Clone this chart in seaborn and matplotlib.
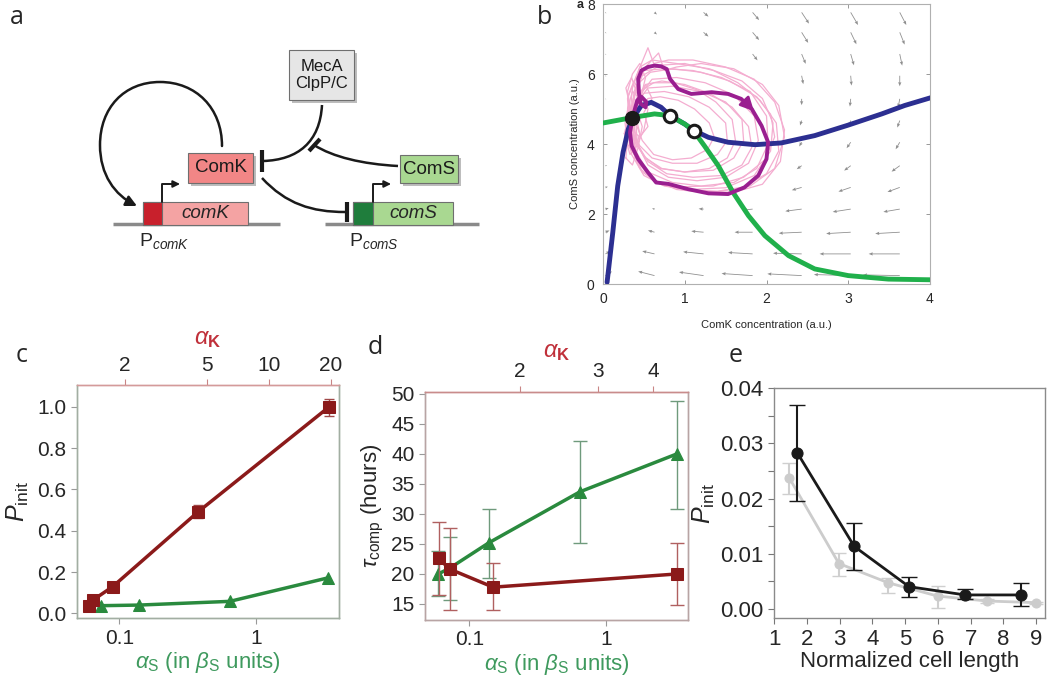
import numpy as np
import pandas as pd
import seaborn as sns
import matplotlib.pyplot as plt
import matplotlib.patches as mpatches
from matplotlib.path import Path
from matplotlib.ticker import NullLocator

# ---------------- data ----------------
# panel b: phase plane
comk_null_x = [0.05, 0.12, 0.18, 0.245, 0.31, 0.37, 0.47, 0.59, 0.71, 0.82, 1.0, 1.1, 1.29,
               1.53, 1.86, 2.18, 2.59, 3.0, 3.41, 3.69, 4.02]
comk_null_y = [0.05, 1.48, 2.8, 3.76, 4.43, 4.76, 5.1, 5.19, 5.05, 4.81, 4.57, 4.4, 4.19,
               4.05, 3.98, 4.03, 4.24, 4.54, 4.86, 5.1, 5.33]
coms_null_x = [0.0, 0.37, 0.63, 0.82, 1.0, 1.1, 1.24, 1.41, 1.59, 1.78, 1.98, 2.27, 2.59,
               3.0, 3.49, 4.02]
coms_null_y = [4.6, 4.76, 4.86, 4.81, 4.57, 4.4, 3.95, 3.38, 2.62, 1.95, 1.38, 0.81, 0.43,
               0.24, 0.14, 0.12]
stable_pt = (0.36, 4.74)
unstable_x = [0.82, 1.11]
unstable_y = [4.81, 4.38]

traj_x = [0.36, 0.39, 0.42, 0.47, 0.53, 0.52, 0.46, 0.44, 0.43, 0.47, 0.55, 0.63, 0.71, 0.78,
          0.82, 0.92, 1.08, 1.33, 1.53, 1.69, 1.82, 1.94, 2.02, 2.0, 1.9, 1.73, 1.53, 1.29,
          1.04, 0.8, 0.65, 0.55, 0.43, 0.35, 0.33, 0.36]
traj_y = [4.74, 5.0, 5.25, 5.35, 5.2, 5.05, 5.15, 5.45, 5.86, 6.1, 6.2, 6.24, 6.22, 6.14,
          5.86, 5.57, 5.43, 5.48, 5.43, 5.29, 5.0, 4.52, 4.05, 3.57, 3.1, 2.76, 2.57, 2.59,
          2.71, 2.86, 2.9, 3.19, 3.57, 3.95, 4.33, 4.71]

loop1_x = [0.32, 0.30, 0.40, 0.55, 0.62, 0.80, 1.10, 1.50, 1.85, 2.10, 2.22, 2.17, 1.95, 1.60, 1.15, 0.75, 0.50, 0.35, 0.30, 0.33]
loop1_y = [4.6, 5.3, 5.9, 6.75, 6.3, 6.4, 6.4, 6.2, 5.85, 5.2, 4.4, 3.5, 2.85, 2.62, 2.65, 2.8, 3.1, 3.7, 4.3, 4.7]
loop2_x = [0.35, 0.38, 0.50, 0.75, 1.10, 1.45, 1.80, 2.00, 2.02, 1.88, 1.60, 1.20, 0.85, 0.55, 0.40, 0.35]
loop2_y = [4.7, 5.5, 6.1, 6.15, 6.1, 5.9, 5.5, 4.8, 4.0, 3.3, 2.9, 2.8, 2.9, 3.2, 3.8, 4.7]
loop3_x = [0.40, 0.45, 0.60, 0.90, 1.25, 1.60, 1.85, 1.90, 1.78, 1.50, 1.15, 0.80, 0.55, 0.42, 0.40]
loop3_y = [4.7, 5.4, 5.85, 5.9, 5.75, 5.4, 4.8, 4.1, 3.45, 3.05, 2.95, 3.05, 3.4, 4.0, 4.7]
loop4_x = [0.38, 0.42, 0.55, 0.85, 1.20, 1.50, 1.70, 1.72, 1.60, 1.35, 1.00, 0.70, 0.50, 0.40, 0.38]
loop4_y = [4.6, 5.2, 5.6, 5.65, 5.5, 5.2, 4.7, 4.1, 3.6, 3.25, 3.2, 3.3, 3.65, 4.1, 4.6]
loop5_x = [0.36, 0.40, 0.50, 0.75, 1.05, 1.30, 1.50, 1.52, 1.40, 1.15, 0.85, 0.60, 0.45, 0.37, 0.36]
loop5_y = [4.7, 5.1, 5.45, 5.5, 5.35, 5.05, 4.6, 4.1, 3.7, 3.45, 3.45, 3.6, 3.95, 4.3, 4.7]
loop6_x = [0.33, 0.36, 0.45, 0.60, 0.90, 1.30, 1.70, 1.95, 2.08, 2.05, 1.85, 1.50, 1.05, 0.70, 0.45, 0.33, 0.33]
loop6_y = [4.8, 5.6, 6.2, 6.4, 6.3, 6.15, 5.8, 5.3, 4.6, 3.8, 3.1, 2.75, 2.7, 2.85, 3.3, 4.0, 4.8]
loop7_x = [0.30, 0.27, 0.32, 0.28, 0.35, 0.42, 0.40, 0.45, 0.38, 0.30]
loop7_y = [4.0, 4.6, 5.2, 5.6, 5.9, 5.4, 4.8, 4.3, 3.7, 4.0]
loop8_x = [0.30, 0.36, 0.45, 0.52, 0.60, 0.50, 0.55, 0.45, 0.35, 0.30]
loop8_y = [5.0, 5.5, 5.3, 5.7, 5.3, 4.9, 4.5, 4.2, 4.4, 5.0]
loop9_x = [0.34, 0.37, 0.48, 0.70, 1.00, 1.35, 1.65, 1.92, 2.12, 2.15, 2.00, 1.70, 1.30, 0.90, 0.60, 0.42, 0.34]
loop9_y = [4.5, 5.3, 5.95, 6.25, 6.3, 6.1, 5.75, 5.25, 4.6, 3.8, 3.15, 2.75, 2.6, 2.7, 3.0, 3.6, 4.5]
loop10_x = [0.37, 0.40, 0.52, 0.72, 1.00, 1.30, 1.58, 1.78, 1.82, 1.70, 1.45, 1.10, 0.78, 0.55, 0.42, 0.37]
loop10_y = [4.6, 5.25, 5.7, 5.8, 5.7, 5.45, 5.05, 4.5, 3.9, 3.4, 3.1, 3.05, 3.15, 3.5, 4.0, 4.6]
loop11_x = [0.36, 0.38, 0.45, 0.62, 0.88, 1.15, 1.38, 1.58, 1.62, 1.52, 1.30, 1.00, 0.72, 0.52, 0.40, 0.36]
loop11_y = [4.5, 5.0, 5.5, 5.75, 5.75, 5.55, 5.2, 4.7, 4.1, 3.6, 3.3, 3.2, 3.3, 3.6, 4.0, 4.5]
loop12_x = [0.33, 0.35, 0.42, 0.58, 0.85, 1.20, 1.55, 1.88, 2.05, 2.10, 1.98, 1.72, 1.35, 0.95, 0.62, 0.42, 0.33]
loop12_y = [4.4, 5.1, 5.7, 6.05, 6.15, 6.05, 5.8, 5.35, 4.85, 4.2, 3.55, 3.05, 2.8, 2.78, 2.95, 3.5, 4.4]
loop13_x = [0.28, 0.30, 0.34, 0.31, 0.38, 0.44, 0.41, 0.48, 0.43, 0.36, 0.28]
loop13_y = [3.6, 4.2, 4.8, 5.4, 5.8, 5.5, 5.0, 4.5, 3.9, 3.4, 3.6]
loop14_x = [0.26, 0.33, 0.30, 0.36, 0.45, 0.52, 0.47, 0.55, 0.50, 0.40, 0.33, 0.26]
loop14_y = [4.3, 4.9, 5.5, 6.0, 6.3, 5.9, 5.4, 5.0, 4.4, 3.9, 3.7, 4.3]
loop15_x = [0.40, 0.46, 0.55, 0.70, 0.92, 1.12, 1.30, 1.36, 1.28, 1.08, 0.85, 0.62, 0.48, 0.40]
loop15_y = [4.6, 5.05, 5.3, 5.35, 5.25, 5.0, 4.6, 4.2, 3.85, 3.6, 3.55, 3.7, 4.1, 4.6]
loop16_x = [0.35, 0.40, 0.52, 0.68, 0.75, 0.90, 1.20, 1.60, 1.95, 2.15, 2.22, 2.10, 1.80, 1.40, 1.00, 0.70, 0.48, 0.36, 0.35]
loop16_y = [4.6, 5.6, 6.2, 6.6, 6.1, 6.2, 6.3, 6.15, 5.7, 5.1, 4.2, 3.3, 2.8, 2.65, 2.7, 2.85, 3.2, 3.9, 4.6]

# vector field on a coarse grid
field_x = [0.03, 0.63, 1.23, 1.83, 2.43, 3.03, 3.63]
field_y = [7.76, 7.19, 6.57, 5.95, 5.29, 4.67, 4.05, 3.38, 2.76, 2.14, 1.48, 0.86, 0.24]
field_u = [[0.01, 0.03, 0.06, 0.08, 0.09, 0.09, 0.08],
           [0.01, 0.03, 0.06, 0.08, 0.08, 0.07, 0.06],
           [0.01, 0.0, 0.0, 0.06, 0.05, 0.04, 0.03],
           [0.01, 0.0, 0.0, 0.0, 0.02, 0.01, 0.0],
           [0.01, 0.0, 0.0, 0.0, 0.0, -0.01, -0.02],
           [0.0, 0.0, 0.0, 0.0, -0.02, -0.03, -0.03],
           [0.0, 0.0, 0.0, 0.0, -0.03, -0.05, -0.05],
           [0.02, 0.0, 0.0, 0.0, -0.06, -0.08, -0.10],
           [0.03, 0.0, 0.0, 0.0, -0.12, -0.15, -0.15],
           [0.04, -0.03, -0.06, -0.12, -0.20, -0.22, -0.20],
           [0.05, -0.08, -0.15, -0.22, -0.28, -0.30, -0.30],
           [0.06, -0.15, -0.25, -0.30, -0.35, -0.38, -0.38],
           [0.08, -0.20, -0.30, -0.38, -0.42, -0.45, -0.45]]
field_v = [[-0.03, -0.06, -0.12, -0.22, -0.32, -0.36, -0.36],
           [-0.03, -0.06, -0.12, -0.22, -0.30, -0.34, -0.35],
           [-0.02, 0.0, 0.0, -0.18, -0.28, -0.32, -0.33],
           [-0.02, 0.0, 0.0, 0.0, -0.24, -0.28, -0.30],
           [-0.01, 0.0, 0.0, 0.0, -0.18, -0.22, -0.25],
           [0.0, 0.0, 0.0, 0.0, -0.14, -0.18, -0.20],
           [0.0, 0.0, 0.0, 0.0, -0.12, -0.17, -0.20],
           [0.01, 0.0, 0.0, 0.0, -0.10, -0.14, -0.17],
           [0.02, 0.0, 0.0, 0.0, -0.08, -0.12, -0.13],
           [0.03, 0.02, 0.01, -0.03, -0.06, -0.08, -0.08],
           [0.05, 0.05, 0.03, 0.0, -0.03, -0.04, -0.04],
           [0.08, 0.08, 0.06, 0.04, 0.02, 0.0, 0.0],
           [0.12, 0.12, 0.10, 0.06, 0.05, 0.03, 0.02]]

# panel c
alpha_k_c = [1.33, 1.40, 1.74, 4.54, 19.5]
pinit_k_c = [0.035, 0.065, 0.129, 0.492, 0.997]
pinit_k_c_err = [0.005, 0.005, 0.008, 0.033, 0.042]
alpha_s_c = [0.073, 0.139, 0.644, 3.38]
pinit_s_c = [0.037, 0.040, 0.058, 0.172]

# panel d
alpha_k_d = [1.31, 1.39, 1.74, 4.52]
tau_k = [22.6, 20.8, 17.8, 20.0]
tau_k_lo = [16.5, 14.0, 14.0, 14.8]
tau_k_hi = [28.7, 27.6, 21.8, 25.1]
alpha_s_d = [0.0593, 0.0722, 0.139, 0.645, 3.29]
tau_s = [20.0, 21.0, 25.2, 33.7, 40.0]
tau_s_lo = [16.3, 15.7, 19.3, 25.1, 30.9]
tau_s_hi = [23.9, 26.2, 30.9, 42.2, 48.9]

# panel e
length_b = [1.71, 3.45, 5.12, 6.83, 8.53]
pinit_b = [0.0283, 0.0113, 0.0040, 0.0025, 0.0025]
pinit_b_lo = [0.0196, 0.0070, 0.0021, 0.0017, 0.0005]
pinit_b_hi = [0.0370, 0.0155, 0.0058, 0.0035, 0.0047]
length_g = [1.47, 2.98, 4.49, 5.99, 7.49, 9.0]
pinit_g = [0.0237, 0.0082, 0.0047, 0.0023, 0.0014, 0.0011]
pinit_g_lo = [0.0208, 0.0060, 0.0029, 0.0002, 0.0011, 0.0009]
pinit_g_hi = [0.0265, 0.0102, 0.0055, 0.0042, 0.0017, 0.0013]

# ---------------- style ----------------
sns.set_theme(style='ticks')
plt.rcParams['font.family'] = ['Liberation Sans', 'DejaVu Sans']
plt.rcParams['mathtext.fontset'] = 'custom'
plt.rcParams['mathtext.rm'] = 'Liberation Sans'
plt.rcParams['mathtext.it'] = 'Liberation Sans:italic'
plt.rcParams['mathtext.bf'] = 'Liberation Sans:bold'

RED = '#8b1a1a'
GREEN = '#2a8a3e'
LABEL_GREEN = '#3f9a5e'
LABEL_RED = '#c0303a'
W, H = 1050, 679

fig = plt.figure(figsize=(10.5, 6.79), dpi=100)


def px(l, t, r, b):
    return [l / W, 1 - b / H, (r - l) / W, (b - t) / H]


for lab, (x, y) in zip('abcde', [(10, 17), (537, 17), (16, 356), (368, 348), (729, 356)]):
    fig.text(x / W, 1 - y / H, lab, fontsize=18, family='Open Sans', ha='left', va='center')

# ---------------- panel a: diagram (pixel coordinates) ----------------
ax_a = fig.add_axes(px(0, 0, 525, 330))
ax_a.set_xlim(0, 525)
ax_a.set_ylim(330, 0)
ax_a.axis('off')


def box(ax, x0, y0, x1, y1, fc, text, size=13.5, italic=False, shadow=True):
    if shadow:
        ax.add_patch(mpatches.Rectangle((x0 + 3, y0 + 3), x1 - x0, y1 - y0, fc='#bdbdbd', ec='none', zorder=1))
    ax.add_patch(mpatches.Rectangle((x0, y0), x1 - x0, y1 - y0, fc=fc, ec='#6f6f6f', lw=0.8, zorder=2))
    if text:
        ax.text((x0 + x1) / 2, (y0 + y1) / 2, text, ha='center', va='center', fontsize=size,
                style='italic' if italic else 'normal', color='#1a1a1a', zorder=3, linespacing=1.1)


# DNA baselines
ax_a.plot([113, 280], [224, 224], color='#8a8a8a', lw=2.5, zorder=1, solid_capstyle='butt')
ax_a.plot([325, 479], [224, 224], color='#8a8a8a', lw=2.5, zorder=1, solid_capstyle='butt')
# genes
box(ax_a, 143, 202, 248, 225, '#f4a3a3', None, shadow=False)
ax_a.add_patch(mpatches.Rectangle((143, 202), 19, 23, fc='#c8202c', ec='#6f6f6f', lw=0.8, zorder=3))
ax_a.text(205, 213, 'comK', ha='center', va='center', fontsize=13.5, style='italic', zorder=4)
box(ax_a, 353, 202, 453, 225, '#a9d891', None, shadow=False)
ax_a.add_patch(mpatches.Rectangle((353, 202), 20, 23, fc='#1f7d3c', ec='#6f6f6f', lw=0.8, zorder=3))
ax_a.text(413, 213, 'comS', ha='center', va='center', fontsize=13.5, style='italic', zorder=4)
# proteins
box(ax_a, 188, 153, 253, 183, '#f28686', 'ComK')
box(ax_a, 400, 155, 458, 183, '#a9d891', 'ComS')
box(ax_a, 289, 50, 354, 100, '#e6e6e6', 'MecA\nClpP/C', size=12)
# promoter labels
ax_a.text(139, 241, r'P$_{\it{comK}}$', fontsize=14, ha='left', va='center')
ax_a.text(349, 241, r'P$_{\it{comS}}$', fontsize=14, ha='left', va='center')

# bent transcription arrows
for xs in (162, 373):
    ax_a.annotate('', xy=(xs + 18, 184), xytext=(xs, 202),
                  arrowprops=dict(arrowstyle='-|>', color='k', lw=1.4, mutation_scale=10,
                                  connectionstyle='angle,angleA=90,angleB=0,rad=0',
                                  shrinkA=0, shrinkB=0), zorder=5)

# ComK positive feedback loop
loop_path = Path([(222, 146), (222, 108), (196, 82), (160, 82), (124, 82), (100, 108), (100, 145),
                  (100, 175), (115, 195), (137, 206)],
                 [Path.MOVETO] + [Path.CURVE4] * 9)
ax_a.add_patch(mpatches.FancyArrowPatch(path=loop_path, arrowstyle='-|>', mutation_scale=16,
                                        color='k', lw=1.8, zorder=5))


def repress(ax, verts, bar):
    p = Path(verts, [Path.MOVETO] + [Path.CURVE4] * (len(verts) - 1))
    ax.add_patch(mpatches.PathPatch(p, fc='none', ec='k', lw=1.8, zorder=5))
    ax.plot([bar[0], bar[2]], [bar[1], bar[3]], color='k', lw=3, solid_capstyle='butt', zorder=5)


repress(ax_a, [(322, 105), (320, 142), (298, 160), (263, 161)], (262, 150, 262, 172))
repress(ax_a, [(398, 166), (362, 164), (333, 157), (314, 145)], (309, 151, 320, 139))
repress(ax_a, [(262, 178), (286, 204), (312, 212), (345, 212)], (347, 202, 347, 222))

# ---------------- panel b: phase plane ----------------
ax_b = fig.add_axes(px(603, 4, 930, 284))
fx, fy = np.meshgrid(field_x, field_y)
fu = np.array(field_u)
fv = np.array(field_v)
still = (fu == 0) & (fv == 0)
fu = np.where(still, np.nan, fu)
fv = np.where(still, np.nan, fv)
ax_b.quiver(fx, fy, fu, fv, angles='xy', scale_units='xy', scale=1, color='#8f8f8f',
            width=0.0025, headwidth=4, headlength=5, headaxislength=4.5, zorder=1)

pink_loops = [(loop1_x, loop1_y), (loop2_x, loop2_y), (loop3_x, loop3_y), (loop4_x, loop4_y),
              (loop5_x, loop5_y), (loop6_x, loop6_y), (loop7_x, loop7_y), (loop8_x, loop8_y),
              (loop9_x, loop9_y), (loop10_x, loop10_y), (loop11_x, loop11_y), (loop12_x, loop12_y),
              (loop13_x, loop13_y), (loop14_x, loop14_y), (loop15_x, loop15_y), (loop16_x, loop16_y)]
for lx, ly in pink_loops:
    ax_b.plot(lx, ly, color='#f4add0', lw=0.9, zorder=2)

sns.lineplot(x=comk_null_x, y=comk_null_y, ax=ax_b, color='#2c2f91', lw=3.5, sort=False,
             estimator=None, zorder=4)
sns.lineplot(x=coms_null_x, y=coms_null_y, ax=ax_b, color='#20b04b', lw=3.5, sort=False,
             estimator=None, zorder=4)
ax_b.plot(traj_x, traj_y, color='#9a1f90', lw=2.8, zorder=5, solid_joinstyle='round')
ax_b.annotate('', xy=(1.87, 4.88), xytext=(1.74, 5.2),
              arrowprops=dict(arrowstyle='-|>', color='#9a1f90', lw=2, mutation_scale=20), zorder=6)
ax_b.plot(*stable_pt, 'o', color='k', ms=10, zorder=7)
ax_b.plot(unstable_x, unstable_y, 'o', mfc='white', mec='k', mew=2.2, ms=9, ls='none', zorder=7)

ax_b.set_xlim(0, 4)
ax_b.set_ylim(0, 8)
ax_b.set_xticks([0, 1, 2, 3, 4])
ax_b.set_yticks([0, 2, 4, 6, 8])
ax_b.tick_params(direction='in', top=True, right=True, length=3, width=0.6, color='#888',
                 labelsize=10, pad=6)
for s in ax_b.spines.values():
    s.set_color('#b0b0b0')
    s.set_linewidth(0.8)
ax_b.set_xlabel('ComK concentration (a.u.)', fontsize=8, labelpad=10)
ax_b.set_ylabel('ComS concentration (a.u.)', fontsize=8, labelpad=5)
fig.text(577 / W, 1 - 5 / H, 'a', fontsize=9, weight='bold', ha='left', va='center')


# ---------------- helpers for c, d ----------------
def style_log_axes(ax, top, spine, top_spine):
    for a in (ax, top):
        for name, s in a.spines.items():
            s.set_color(top_spine if name == 'top' else spine)
            s.set_linewidth(1.0)
    ax.xaxis.set_minor_locator(NullLocator())
    top.xaxis.set_minor_locator(NullLocator())
    ax.tick_params(axis='both', direction='out', length=4, width=0.8, color='#999', labelsize=15)
    top.tick_params(axis='x', direction='out', length=4, width=0.8, color='#c98585', labelsize=15)


# ---------------- panel c ----------------
ax_c = fig.add_axes(px(76.7, 385, 339.3, 618.3))
ax_c.set_xscale('log')
top_c = ax_c.twiny()
top_c.set_xscale('log')

sns.lineplot(x=alpha_s_c, y=pinit_s_c, ax=ax_c, color=GREEN, lw=2.5, marker='^', ms=8,
             mec=GREEN, estimator=None, zorder=3)
top_c.errorbar(alpha_k_c, pinit_k_c, yerr=pinit_k_c_err, fmt='none', ecolor='#a04848',
               elinewidth=1, capsize=3.5, zorder=2)
sns.lineplot(x=alpha_k_c, y=pinit_k_c, ax=top_c, color=RED, lw=2.5, marker='s', ms=8,
             mec=RED, estimator=None, zorder=3)

ax_c.set_xlim(0.0488, 4.07)
top_c.set_xlim(1.164, 22.0)
ax_c.set_ylim(-0.024, 1.105)
ax_c.set_xticks([0.1, 1], labels=['0.1', '1'])
top_c.set_xticks([2, 5, 10, 20], labels=['2', '5', '10', '20'])
ax_c.set_yticks([0, 0.2, 0.4, 0.6, 0.8, 1.0], labels=['0.0', '0.2', '0.4', '0.6', '0.8', '1.0'])
style_log_axes(ax_c, top_c, '#a2aea2', '#d49a9a')
ax_c.set_xlabel(r'$\alpha_\mathrm{S}$ (in $\beta_\mathrm{S}$ units)', fontsize=16,
                color=LABEL_GREEN, labelpad=2)
ax_c.set_ylabel(r'$P_\mathrm{init}$', fontsize=18, labelpad=4)
top_c.set_xlabel(r'$\alpha_\mathbf{K}$', fontsize=17, color=LABEL_RED, labelpad=8)

# ---------------- panel d ----------------
ax_d = fig.add_axes(px(425, 391.7, 688.3, 620))
ax_d.set_xscale('log')
top_d = ax_d.twiny()
top_d.set_xscale('log')

ax_d.errorbar(alpha_s_d, tau_s,
              yerr=[np.subtract(tau_s, tau_s_lo), np.subtract(tau_s_hi, tau_s)],
              fmt='none', ecolor='#6f9a7c', elinewidth=1, capsize=5, zorder=2)
sns.lineplot(x=alpha_s_d, y=tau_s, ax=ax_d, color=GREEN, lw=2.5, marker='^', ms=8,
             mec=GREEN, estimator=None, zorder=3)
top_d.errorbar(alpha_k_d, tau_k,
               yerr=[np.subtract(tau_k, tau_k_lo), np.subtract(tau_k_hi, tau_k)],
               fmt='none', ecolor='#b06060', elinewidth=1, capsize=5, zorder=2)
sns.lineplot(x=alpha_k_d, y=tau_k, ax=top_d, color=RED, lw=2.5, marker='s', ms=8,
             mec=RED, estimator=None, zorder=3)

ax_d.set_xlim(0.0474, 4.0)
top_d.set_xlim(1.221, 4.80)
ax_d.set_ylim(12.33, 50.38)
ax_d.set_xticks([0.1, 1], labels=['0.1', '1'])
top_d.set_xticks([2, 3, 4], labels=['2', '3', '4'])
ax_d.set_yticks(range(15, 51, 5))
style_log_axes(ax_d, top_d, '#b8a4a4', '#c98c8c')
ax_d.set_xlabel(r'$\alpha_\mathrm{S}$ (in $\beta_\mathrm{S}$ units)', fontsize=16,
                color=LABEL_GREEN, labelpad=2)
ax_d.set_ylabel(r'$\tau_{\mathrm{comp}}$ (hours)', fontsize=16, labelpad=4)
top_d.set_xlabel(r'$\alpha_\mathbf{K}$', fontsize=17, color=LABEL_RED, labelpad=4)

# ---------------- panel e ----------------
ax_e = fig.add_axes(px(774, 388.3, 1045, 618.3))
ax_e.errorbar(length_g, pinit_g,
              yerr=[np.subtract(pinit_g, pinit_g_lo), np.subtract(pinit_g_hi, pinit_g)],
              fmt='none', ecolor='#cfcfcf', elinewidth=1.5, capsize=5, zorder=1)
sns.lineplot(x=length_g, y=pinit_g, ax=ax_e, color='#cccccc', lw=2, marker='o', ms=6.5,
             mec='#cccccc', estimator=None, zorder=2)
ax_e.errorbar(length_b, pinit_b,
              yerr=[np.subtract(pinit_b, pinit_b_lo), np.subtract(pinit_b_hi, pinit_b)],
              fmt='none', ecolor='k', elinewidth=1.5, capsize=6, zorder=3)
sns.lineplot(x=length_b, y=pinit_b, ax=ax_e, color='k', lw=2, marker='o', ms=8,
             mec='k', estimator=None, zorder=4)
ax_e.set_xlim(1, 9.27)
ax_e.set_ylim(-0.00174, 0.04)
ax_e.set_xticks(range(1, 10))
ax_e.set_yticks([0, 0.01, 0.02, 0.03, 0.04], labels=['0.00', '0.01', '0.02', '0.03', '0.04'])
ax_e.set_yticks(np.arange(0.005, 0.04, 0.01), minor=True)
ax_e.tick_params(axis='both', which='both', direction='out', length=4, width=0.8, color='#777',
                 labelsize=16)
for s in ax_e.spines.values():
    s.set_color('#8a8a8a')
    s.set_linewidth(1.0)
ax_e.set_xlabel('Normalized cell length', fontsize=16, labelpad=1)
ax_e.set_ylabel(r'$P_\mathrm{init}$', fontsize=18, labelpad=2)

fig.savefig('out.png', dpi=100)
